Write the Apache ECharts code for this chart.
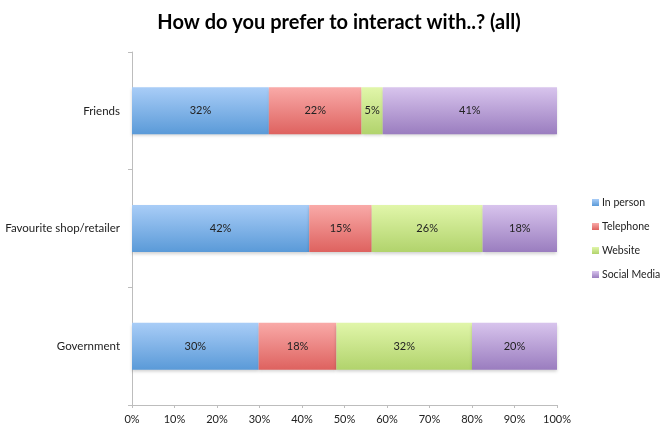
<!DOCTYPE html>
<html><head><meta charset="utf-8">
<script src="https://cdn.jsdelivr.net/npm/echarts@6/dist/echarts.min.js"></script>
<style>html,body{margin:0;padding:0;background:#fff}#c{width:662px;height:425px}</style>
</head><body><div id="c"></div>
<script>
var categories = ['Friends', 'Favourite shop/retailer', 'Government'];
var seriesNames = ['In person', 'Telephone', 'Website', 'Social Media'];
var inPerson = [32.2, 41.7, 29.8];
var telephone = [21.8, 14.7, 18.3];
var website = [5.0, 26.1, 31.9];
var socialMedia = [41.0, 17.5, 20.0];
var xTicks = [0, 10, 20, 30, 40, 50, 60, 70, 80, 90, 100];

var values = [inPerson, telephone, website, socialMedia];
var grads = [['#a9cdf7', '#5a9ad8'], ['#f9aaa8', '#de625f'], ['#e1f6aa', '#b1d36c'], ['#d8c4ed', '#9a7dbf']];
function grad(c) {
  return new echarts.graphic.LinearGradient(0, 0, 0, 1, [{offset: 0, color: c[0]}, {offset: 1, color: c[1]}]);
}
var F = 'Lato';
var chart = echarts.init(document.getElementById('c'));
var series = seriesNames.map(function (n, i) {
  return {
    name: n, type: 'bar', stack: 'all', barWidth: 47,
    data: values[i],
    itemStyle: {color: grad(grads[i]), shadowColor: 'rgba(0,0,0,0.18)', shadowBlur: 3, shadowOffsetY: 2},
    label: {show: true, position: 'inside', color: '#222', fontSize: 11, fontFamily: F,
      formatter: function (p) { return Math.round(p.value) + '%'; }}
  };
});
chart.setOption({
  animation: false,
  title: {text: 'How do you prefer to interact with..? (all)', left: 334, textAlign: 'center', top: 8,
    textStyle: {fontSize: 20, fontWeight: 'bold', color: '#000', fontFamily: F}},
  legend: {orient: 'vertical', left: 592, top: 197, padding: 0, itemWidth: 7, itemHeight: 7, itemGap: 13,
    icon: 'rect', textStyle: {fontSize: 10.5, color: '#222', fontFamily: F, padding: [0, 0, 0, -2]}, data: seriesNames},
  grid: {left: 132, right: 105, top: 52, bottom: 19, containLabel: false},
  xAxis: {type: 'value', min: 0, max: 100, interval: 10,
    axisLine: {show: true, lineStyle: {color: '#bdbdbd'}},
    axisTick: {show: true, length: 3, lineStyle: {color: '#bdbdbd'}},
    splitLine: {show: false},
    axisLabel: {formatter: function (v) { return v + '%'; }, fontSize: 11, color: '#222', margin: 9, fontFamily: F}},
  yAxis: {type: 'category', data: categories, inverse: true,
    axisLine: {show: true, lineStyle: {color: '#bdbdbd'}},
    axisTick: {show: true, length: 4, lineStyle: {color: '#bdbdbd'}},
    axisLabel: {fontSize: 11.5, color: '#222', margin: 12, fontFamily: F}},
  series: series
});
</script></body></html>
